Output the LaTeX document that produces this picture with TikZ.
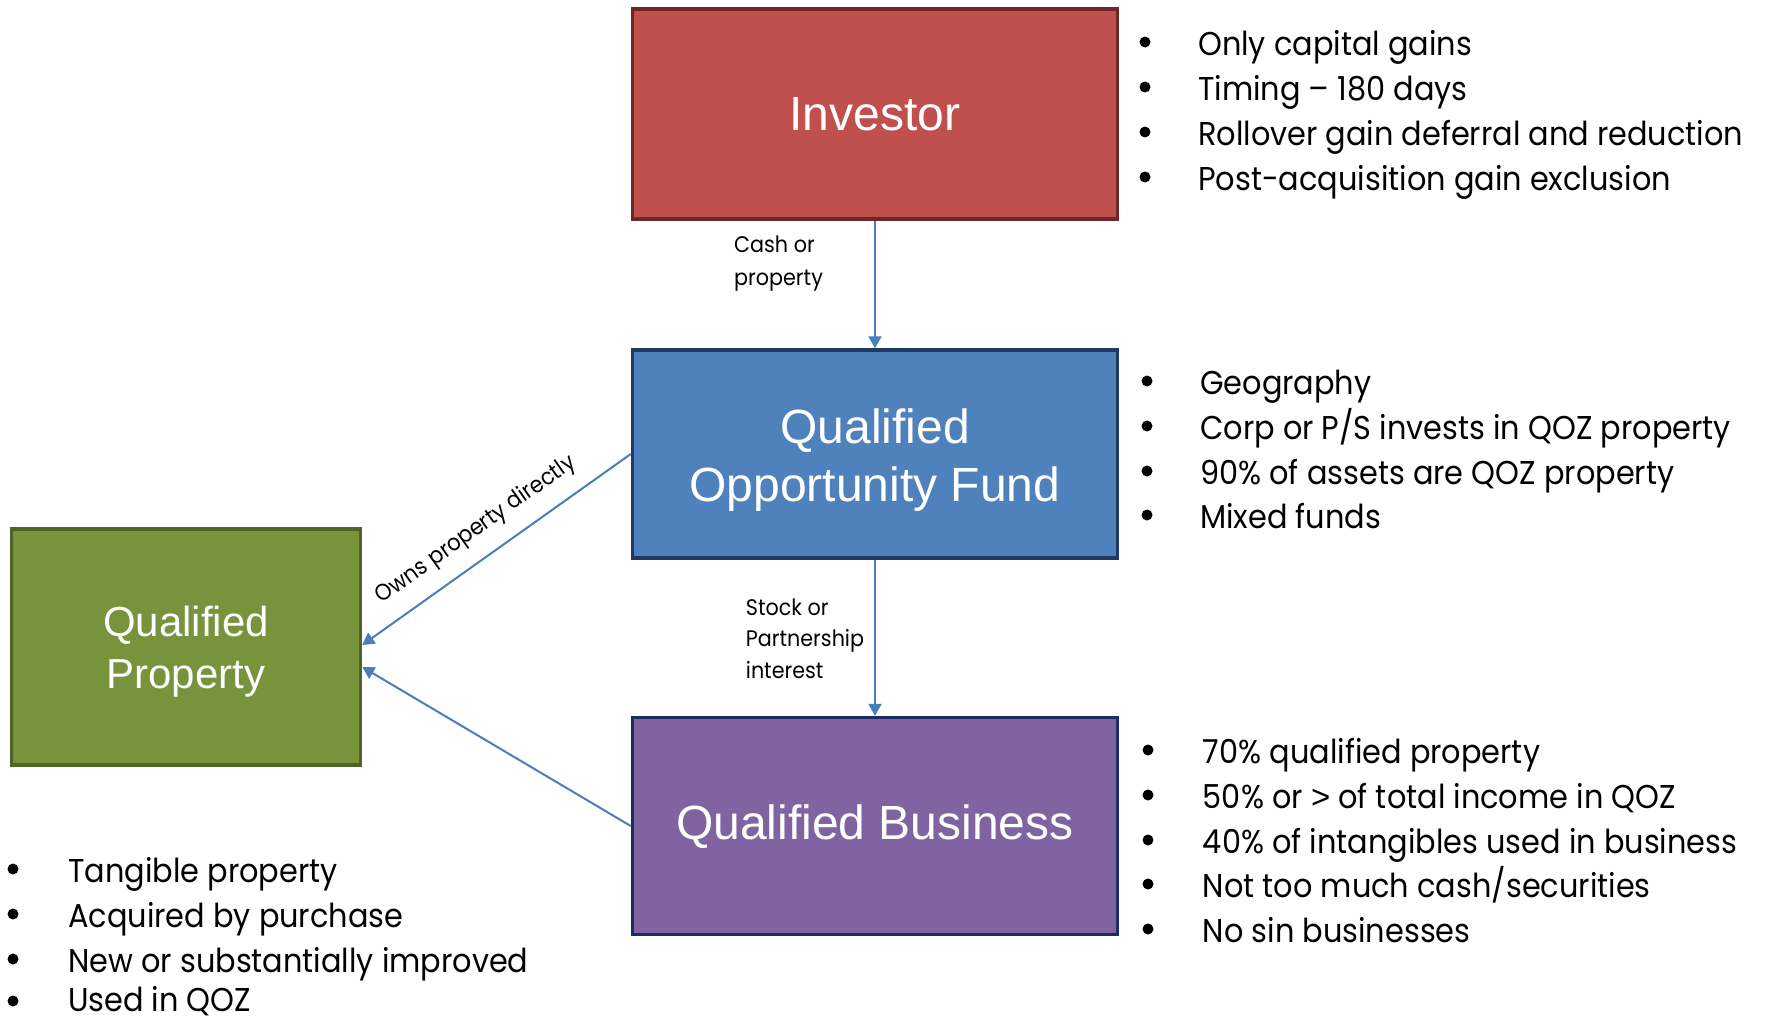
\documentclass[tikz,border=0pt]{standalone}
\usepackage{fontspec}
\setmainfont{Poppins}[FakeStretch=0.92]
\newfontfamily\arialf{Liberation Sans}
\usetikzlibrary{arrows.meta,calc}
\definecolor{invfill}{HTML}{C0504D}
\definecolor{invdraw}{HTML}{6B2826}
\definecolor{qoffill}{HTML}{4F81BD}
\definecolor{qofdraw}{HTML}{1F3A60}
\definecolor{qbfill}{HTML}{8064A2}
\definecolor{qbdraw}{HTML}{1A2C66}
\definecolor{qpfill}{HTML}{77933C}
\definecolor{qpdraw}{HTML}{4F6228}
\definecolor{arrowc}{HTML}{4A7EBB}
\begin{document}
\begin{tikzpicture}[x=1pt,y=-1pt,
  box/.style={draw, line width=3.5pt, inner sep=0pt},
  boxlbl/.style={text=white, inner sep=0pt, align=center, font=\arialf\fontsize{48}{58.7}\selectfont},
  qplbl/.style={text=white, inner sep=0pt, align=center, font=\arialf\fontsize{42}{51.7}\selectfont},
  conn/.style={draw=arrowc, line width=2pt, -{Triangle[length=12pt,width=13pt]}},
  bul/.style={circle, fill=black, inner sep=0pt, minimum size=11pt},
  btxt/.style={anchor=base west, inner sep=0pt, font=\fontsize{33}{40}\selectfont},
  stxt/.style={anchor=base west, inner sep=0pt, font=\fontsize{22.5}{28}\selectfont}]
\useasboundingbox (0,0) rectangle (1767,1020);

% boxes
\node[box, fill=invfill, draw=invdraw, minimum width=485pt, minimum height=210pt] (inv) at (875,114) {};
\node[box, fill=qoffill, draw=qofdraw, minimum width=485pt, minimum height=208pt] (qof) at (875,454) {};
\node[box, fill=qbfill, draw=qbdraw, minimum width=485pt, minimum height=217pt] (qb) at (875,826) {};
\node[box, fill=qpfill, draw=qpdraw, minimum width=349pt, minimum height=236pt] (qp) at (186,647) {};

% box labels
\node[boxlbl] (invt) at (875,114.7) {Investor};
\node[boxlbl] (qoft) at (875,460) {Qualified\\Opportunity Fund};
\node[boxlbl] (qbt) at (875,827) {Qualified Business};
\node[qplbl] (qpt) at (186,651.7) {Qualified\\Property};

% connectors
\draw[conn] (inv.south) -- (qof.north);
\draw[conn] (qof.south) -- (qb.north);
\draw[conn] (qof.west) -- ($(qp.east)+(0,-2)$);
\draw[conn] (qb.west) -- ($(qp.east)+(0,20)$);

% connector labels
\node[stxt] (c1) at (734,252.3) {Cash or};
\node[stxt] (c2) at (734,285) {property};
\node[stxt] (s1) at (745.7,615) {Stock or};
\node[stxt] (s2) at (745.7,646.7) {Partnership};
\node[stxt] (s3) at (745.7,678.3) {interest};
\node[inner sep=0pt, rotate=35.3, font=\fontsize{23}{28}\selectfont] (own) at (476,530) {Owns property directly};

% investor bullets
\node[bul] (ib1) at (1145,42) {};
\node[bul] (ib2) at (1145,87) {};
\node[bul] (ib3) at (1145,132) {};
\node[bul] (ib4) at (1145,177) {};
\node[btxt] (it1) at (1198,55) {Only capital gains};
\node[btxt] (it2) at (1198,100) {Timing – 180 days};
\node[btxt] (it3) at (1198,145) {Rollover gain deferral and reduction};
\node[btxt] (it4) at (1198,190) {Post-acquisition gain exclusion};

% QOF bullets
\node[bul] (fb1) at (1147,381) {};
\node[bul] (fb2) at (1147,426) {};
\node[bul] (fb3) at (1147,471) {};
\node[bul] (fb4) at (1147,515) {};
\node[btxt] (ft1) at (1200,394) {Geography};
\node[btxt] (ft2) at (1200,439) {Corp or P/S invests in QOZ property};
\node[btxt] (ft3) at (1200,484) {90\% of assets are QOZ property};
\node[btxt] (ft4) at (1200,528) {Mixed funds};

% QB bullets
\node[bul] (bb1) at (1148,750) {};
\node[bul] (bb2) at (1148,795) {};
\node[bul] (bb3) at (1148,840) {};
\node[bul] (bb4) at (1148,884) {};
\node[bul] (bb5) at (1148,929) {};
\node[btxt] (bt1) at (1202.7,763) {70\% qualified property};
\node[btxt] (bt2) at (1202.7,808) {50\% or {\arialf >} of total income in QOZ};
\node[btxt] (bt3) at (1202.7,853) {40\% of intangibles used in business};
\node[btxt] (bt4) at (1202.7,897) {Not too much cash/securities};
\node[btxt] (bt5) at (1202.7,942) {No sin businesses};

% QP bullets
\node[bul] (pb1) at (13,869) {};
\node[bul] (pb2) at (13,914) {};
\node[bul] (pb3) at (13,959) {};
\node[bul] (pb4) at (13,1001) {};
\node[btxt] (pt1) at (68,882) {Tangible property};
\node[btxt] (pt2) at (68,927) {Acquired by purchase};
\node[btxt] (pt3) at (68,972) {New or substantially improved};
\node[btxt] (pt4) at (68,1011) {Used in QOZ};
\end{tikzpicture}
\end{document}
